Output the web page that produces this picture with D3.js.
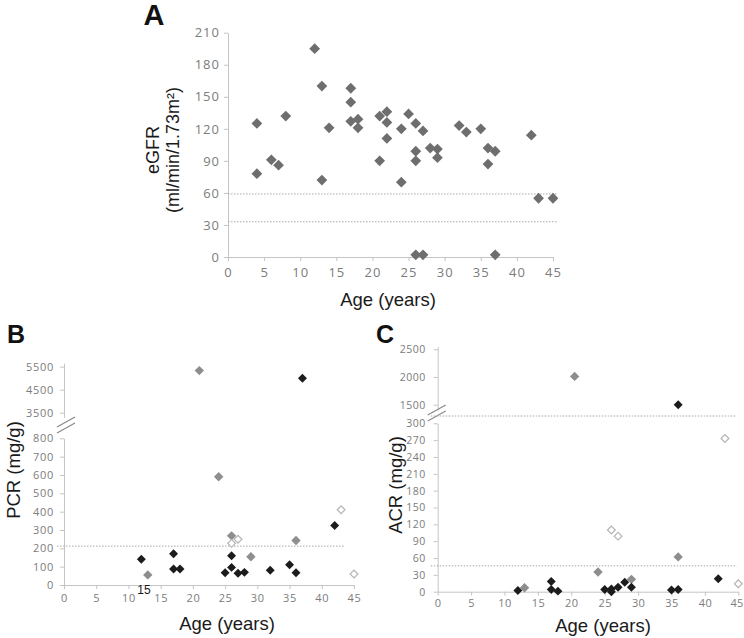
<!DOCTYPE html>
<html lang="en">
<head>
<meta charset="UTF-8"/>
<title>eGFR, PCR and ACR by age</title>
<script src="https://cdn.jsdelivr.net/npm/d3@7"></script>
<style>
    html, body { margin: 0; background: #fff; }
    .axis path, .axis line { stroke: #c4c4c4; }
    .axis text { font-family: "Open Sans", sans-serif; fill: #7c7c7c; }
    .title { font-family: "Liberation Sans", Arial, sans-serif; fill: #1a1a1a; }
    .panel-letter { font-family: "Liberation Sans", Arial, sans-serif; font-weight: bold; fill: #111; }
</style>
</head>
<body>
<div id="chart"></div>
<script>
    // ---- data ----
    const ageTicks = [0, 5, 10, 15, 20, 25, 30, 35, 40, 45];

    // A: eGFR, [age, eGFR]
    const egfrPoints = [
        [4, 125], [4, 78], [6, 91], [7, 86], [8, 132], [12, 195], [13, 160], [13, 72], [14, 121],
        [17, 158], [17, 145], [17, 127], [18, 129], [18, 121], [21, 132], [21, 90], [22, 136],
        [22, 126], [22, 111], [24, 120], [24, 70], [25, 134], [26, 125], [26, 99], [26, 90], [26, 2],
        [27, 118], [27, 2], [28, 102], [29, 101], [29, 93], [32, 123], [33, 117], [35, 120],
        [36, 102], [36, 87], [37, 99], [37, 2], [42, 114], [43, 55], [45, 55]
    ];
    const egfrTicks = [0, 30, 60, 90, 120, 150, 180, 210];
    const egfrCutoffs = [59, 33];

    // B: PCR, [age, mg/g]
    const pcrBlack = [
        [12, 140], [17, 170], [17, 87], [18, 87], [25, 67], [26, 160], [26, 96], [27, 64],
        [28, 69], [32, 80], [35, 110], [36, 67], [42, 325], [37, 5000]
    ];
    const pcrGray = [[13, 55], [24, 590], [26, 268], [29, 154], [36, 243], [21, 5330]];
    const pcrOpen = [[26, 227], [27, 250], [43, 410], [45, 60]];
    const pcrLowTicks = [0, 100, 200, 300, 400, 500, 600, 700, 800];
    const pcrHighTicks = [3500, 4500, 5500];
    const pcrCutoffs = [212];

    // C: ACR, [age, mg/g]
    const acrBlack = [
        [12, 2], [17, 18], [17, 4], [18, 1], [25, 4], [26, 5], [26, 0], [27, 8], [28, 17],
        [29, 8], [35, 3], [36, 4], [42, 23], [36, 1500]
    ];
    const acrGray = [[13, 7], [24, 35], [29, 22], [36, 62], [20.5, 2010]];
    const acrOpen = [[26, 110], [27, 99], [43, 273], [45, 14]];
    const acrLowTicks = [0, 30, 60, 90, 120, 150, 180, 210, 240, 270, 300];
    const acrHighTicks = [1500, 2000, 2500];
    const acrCutoffs = [46, 313];

    const width = 744, height = 638;
    const plain = d3.format("d");

    const svg = d3.select("#chart").append("svg")
        .attr("width", width)
        .attr("height", height);

    const diamond = (area) => d3.symbol(d3.symbolSquare, area);

    function drawPoints(g, pts, x, yFor, area, fill, stroke) {
        g.append("g").selectAll("path")
            .data(pts)
            .join("path")
            .attr("d", diamond(area))
            .attr("transform", d => `translate(${x(d[0])},${yFor(d[1])}) rotate(45)`)
            .attr("fill", fill)
            .attr("stroke", stroke)
            .attr("stroke-width", stroke === "none" ? 0 : 1.2);
    }

    function dotted(g, x1, x2, yPos) {
        g.append("line")
            .attr("x1", x1).attr("x2", x2)
            .attr("y1", yPos).attr("y2", yPos)
            .attr("stroke", "#a8a8a8")
            .attr("stroke-width", 1)
            .attr("stroke-dasharray", "1.5,1.5");
    }

    function yAxis(g, scale, ticks, xPos, fontSize, spacing, pad) {
        const a = g.append("g")
            .attr("class", "axis")
            .attr("transform", `translate(${xPos},0)`)
            .call(d3.axisLeft(scale).tickValues(ticks).tickFormat(plain)
                .tickSize(4).tickSizeOuter(0).tickPadding(pad));
        a.selectAll("text").style("font-size", fontSize + "px").style("letter-spacing", spacing + "px");
        return a;
    }

    function xAxis(g, scale, yPos, fontSize, spacing, pad) {
        const a = g.append("g")
            .attr("class", "axis")
            .attr("transform", `translate(0,${yPos})`)
            .call(d3.axisBottom(scale).tickValues(ageTicks).tickFormat(plain)
                .tickSize(4).tickSizeOuter(0).tickPadding(pad));
        a.selectAll("text").style("font-size", fontSize + "px").style("letter-spacing", spacing + "px");
        return a;
    }

    function breakMark(g, xPos, yPos) {
        [-3, 3].forEach(off => {
            g.append("line")
                .attr("x1", xPos - 9).attr("y1", yPos + 5 + off)
                .attr("x2", xPos + 9).attr("y2", yPos - 5 + off)
                .attr("stroke", "#8a8a8a")
                .attr("stroke-width", 1.2);
        });
    }

    // ---------- Panel A ----------
    const gA = svg.append("g");
    const xA = d3.scaleLinear().domain([0, 45]).range([228, 553]);
    const yA = d3.scaleLinear().domain([0, 210]).range([257, 32.7]);

    yAxis(gA, yA, egfrTicks, xA(0), 13, 1, 4);
    xAxis(gA, xA, yA(0), 13, 1, 7);
    egfrCutoffs.forEach(v => dotted(gA, xA(0), xA(45) + 4, yA(v)));
    drawPoints(gA, egfrPoints, xA, yA, 58, "#6e6e6e", "none");

    gA.append("text").attr("class", "panel-letter")
        .attr("x", 154).attr("y", 25).attr("text-anchor", "middle")
        .style("font-size", "29px").text("A");
    gA.append("text").attr("class", "title")
        .attr("transform", "translate(153,150) rotate(-90)")
        .attr("text-anchor", "middle").attr("dy", "0.35em")
        .style("font-size", "18px").text("eGFR");
    gA.append("text").attr("class", "title")
        .attr("transform", "translate(173,150) rotate(-90)")
        .attr("text-anchor", "middle").attr("dy", "0.35em")
        .style("font-size", "18px").text("(ml/min/1.73m²)");
    gA.append("text").attr("class", "title")
        .attr("x", 388).attr("y", 306).attr("text-anchor", "middle")
        .style("font-size", "18.5px").text("Age (years)");

    // ---------- Panel B ----------
    const gB = svg.append("g");
    const xB = d3.scaleLinear().domain([0, 45]).range([64, 354]);
    const yBlow = d3.scaleLinear().domain([0, 800]).range([585, 438.3]);
    const yBhigh = d3.scaleLinear().domain([3300, 5650]).range([417.3, 363.2]);
    const yB = v => v > 1000 ? yBhigh(v) : yBlow(v);

    yAxis(gB, yBlow, pcrLowTicks, xB(0), 11, 0.7, 6);
    yAxis(gB, yBhigh, pcrHighTicks, xB(0), 11, 0.7, 6);
    xAxis(gB, xB, yBlow(0), 11, 0.7, 5);
    breakMark(gB, xB(0) + 2, 425);
    pcrCutoffs.forEach(v => dotted(gB, xB(0) - 7, xB(43.6), yBlow(v)));
    drawPoints(gB, pcrGray, xB, yB, 44, "#8e8e8e", "none");
    drawPoints(gB, pcrBlack, xB, yB, 40, "#1c1c1c", "none");
    drawPoints(gB, pcrOpen, xB, yB, 30, "#ffffff", "#b4b4b4");

    gB.append("text").attr("class", "title")
        .attr("x", 144).attr("y", 590).attr("text-anchor", "middle").attr("dy", "0.35em")
        .style("font-size", "12px").text("15");
    gB.append("text").attr("class", "panel-letter")
        .attr("x", 16).attr("y", 343).attr("text-anchor", "middle")
        .style("font-size", "25px").text("B");
    gB.append("text").attr("class", "title")
        .attr("transform", "translate(14,470) rotate(-90)")
        .attr("text-anchor", "middle").attr("dy", "0.35em")
        .style("font-size", "18.5px").text("PCR (mg/g)");
    gB.append("text").attr("class", "title")
        .attr("x", 227).attr("y", 630).attr("text-anchor", "middle")
        .style("font-size", "18.5px").text("Age (years)");

    // ---------- Panel C ----------
    const gC = svg.append("g");
    const xC = d3.scaleLinear().domain([0, 45]).range([437.7, 738.3]);
    const yClow = d3.scaleLinear().domain([0, 300]).range([591.7, 423.3]);
    const yChigh = d3.scaleLinear().domain([1400, 2550]).range([410.2, 346.5]);
    const yC = v => v > 1000 ? yChigh(v) : yClow(v);

    yAxis(gC, yClow, acrLowTicks, xC(0), 10.5, 0.5, 8);
    yAxis(gC, yChigh, acrHighTicks, xC(0), 10.5, 0.5, 8);
    const axC = xAxis(gC, xC, yClow(0), 11, 0.4, 4);
    // keep the last age label inside the page
    axC.selectAll(".tick").filter(d => d === 45).select("text").attr("text-anchor", "end").attr("x", 5);
    breakMark(gC, xC(0) - 1, 413);
    acrCutoffs.forEach(v => dotted(gC, xC(0) - 7, xC(44.8), yClow(v)));
    drawPoints(gC, acrGray, xC, yC, 44, "#8e8e8e", "none");
    drawPoints(gC, acrBlack, xC, yC, 40, "#1c1c1c", "none");
    drawPoints(gC, acrOpen, xC, yC, 30, "#ffffff", "#b4b4b4");

    gC.append("text").attr("class", "panel-letter")
        .attr("x", 385).attr("y", 343).attr("text-anchor", "middle")
        .style("font-size", "25px").text("C");
    gC.append("text").attr("class", "title")
        .attr("transform", "translate(396,485) rotate(-90)")
        .attr("text-anchor", "middle").attr("dy", "0.35em")
        .style("font-size", "18.5px").text("ACR (mg/g)");
    gC.append("text").attr("class", "title")
        .attr("x", 603).attr("y", 632).attr("text-anchor", "middle")
        .style("font-size", "18.5px").text("Age (years)");
</script>
</body>
</html>
